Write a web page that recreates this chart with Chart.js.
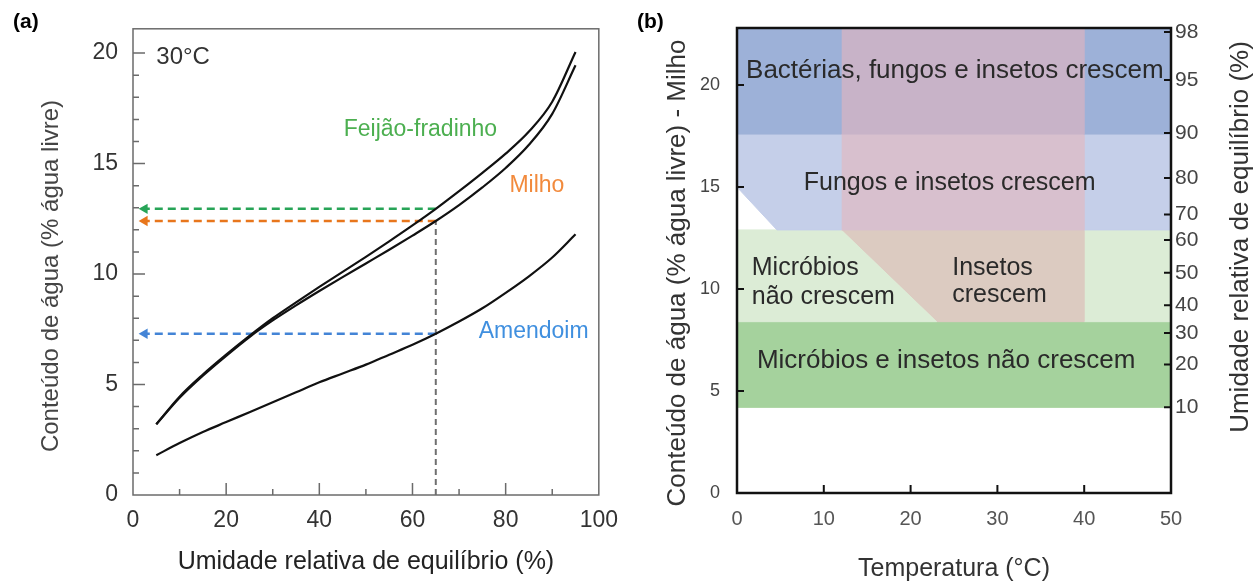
<!DOCTYPE html>
<html lang="pt">
<head>
<meta charset="utf-8">
<title>Conteúdo de água e umidade relativa de equilíbrio</title>
<script src="https://cdn.jsdelivr.net/npm/chart.js@4.4.3/dist/chart.umd.min.js"></script>
<style>
  html, body { margin: 0; padding: 0; background: #fff; }
  #quadro { position: relative; width: 1255px; height: 584px; }
  #graficoA { position: absolute; left: 0; top: 0; }
  #graficoB { position: absolute; left: 630px; top: 0; }
</style>
</head>
<body>
<div id="quadro">
  <canvas id="graficoA" width="630" height="584"></canvas>
  <canvas id="graficoB" width="625" height="584"></canvas>
</div>
<script>
// ---- (a) isotermas a 30 °C ----
const umidade  = [5, 10, 15, 20, 25, 30, 35, 40, 45, 50, 55, 60, 65, 70, 75, 80, 85, 90, 95];
const feijao   = [3.2, 4.45, 5.45, 6.35, 7.2, 8.0, 8.72, 9.42, 10.1, 10.78, 11.48, 12.2, 12.95, 13.75, 14.58, 15.45, 16.45, 17.8, 20.05];
const milho    = [3.2, 4.4, 5.4, 6.3, 7.15, 7.9, 8.58, 9.23, 9.86, 10.48, 11.1, 11.74, 12.4, 13.12, 13.92, 14.8, 15.85, 17.25, 19.45];
const amendoim = [1.8, 2.35, 2.85, 3.3, 3.75, 4.2, 4.65, 5.1, 5.5, 5.9, 6.35, 6.8, 7.3, 7.85, 8.45, 9.15, 9.9, 10.75, 11.8];
const umidadeLeitura = 65;
const ticksUmidade = [0, 20, 40, 60, 80, 100];
const ticksConteudoA = [0, 5, 10, 15, 20];

// ---- (b) faixas de crescimento no milho ----
const ticksTemperatura = [0, 10, 20, 30, 40, 50];
const ticksConteudoB = [0, 5, 10, 15, 20];
const urRotulos  = [98, 95, 90, 80, 70, 60, 50, 40, 30, 20, 10];
const urConteudo = [22.6, 20.25, 17.65, 15.45, 13.65, 12.4, 10.8, 9.2, 7.85, 6.3, 4.2];
const faixasConteudo = [22.8, 17.6, 12.9, 8.4, 4.2];   // topo do eixo e limites entre as faixas
const faixasTemperatura = [0, 12, 40, 50];

Chart.defaults.font.family = 'Arial, "Liberation Sans", Helvetica, sans-serif';

const cores = {
  azul: '#9db1d8', malva: '#c8b3c8', azulClaro: '#c5cfe9', rosa: '#d8c0ce',
  verdeClaro: '#dcecd6', bege: '#dccbc1', verde: '#a5d29d'
};

// moldura da área do gráfico e marcas de escala voltadas para dentro
function fazerMoldura(cfg) {
  return {
    id: 'moldura',
    afterDatasetsDraw(chart) {
      const { ctx, chartArea: a, scales } = chart;
      ctx.save();
      ctx.strokeStyle = cfg.cor;
      ctx.lineWidth = cfg.espessura;
      ctx.strokeRect(a.left, a.top, a.right - a.left, a.bottom - a.top);
      ctx.lineWidth = cfg.espessuraMarca;
      for (const m of cfg.marcas) {
        const s = scales[m.eixo];
        ctx.beginPath();
        for (const v of m.valores) {
          const p = s.getPixelForValue(v);
          if (m.lado === 'baixo') { ctx.moveTo(p, a.bottom); ctx.lineTo(p, a.bottom - m.comp); }
          else if (m.lado === 'esq') { ctx.moveTo(a.left, p); ctx.lineTo(a.left + m.comp, p); }
          else { ctx.moveTo(a.right, p); ctx.lineTo(a.right - m.comp, p); }
        }
        ctx.stroke();
      }
      ctx.restore();
    }
  };
}

// textos: em coordenadas dos eixos (x, y) ou em pixels do canvas (px, py)
function fazerRotulos(itens) {
  return {
    id: 'rotulos',
    afterDraw(chart) {
      const { ctx, scales } = chart;
      for (const r of itens) {
        const px = r.px ?? scales.x.getPixelForValue(r.x);
        const py = r.py ?? scales.y.getPixelForValue(r.y);
        ctx.save();
        ctx.translate(px, py);
        if (r.rot) ctx.rotate(r.rot * Math.PI / 180);
        ctx.font = (r.negrito ? 'bold ' : '') + r.tam + 'px ' + Chart.defaults.font.family;
        ctx.fillStyle = r.cor || '#333';
        ctx.textAlign = r.alinh || 'center';
        ctx.textBaseline = 'middle';
        ctx.fillText(r.texto, 0, 0);
        ctx.restore();
      }
    }
  };
}

const fixarTicks = valores => s => { s.ticks = valores.map(v => ({ value: v })); };
const semGrade = { display: false, drawTicks: false };

// ================= (a) =================
const iLeitura = umidade.indexOf(umidadeLeitura);
const FIM_SETA = 2.5;

const curva = ys => ({
  data: umidade.map((x, i) => ({ x, y: ys[i] })),
  borderColor: '#111', borderWidth: 2.2, pointRadius: 0,
  cubicInterpolationMode: 'monotone'
});
const seta = (valor, cor) => ({
  data: [{ x: umidadeLeitura, y: valor }, { x: FIM_SETA, y: valor }],
  borderColor: cor, borderWidth: 2.5, borderDash: [8, 5],
  pointRadius: [0, 6], pointStyle: 'triangle', pointRotation: 270,
  pointBackgroundColor: cor, pointBorderColor: cor, pointBorderWidth: 0
});

const minX = [10, 30, 50, 70, 90];
const minY = [];
for (let v = 1; v <= 20; v++) if (v % 5) minY.push(v);

new Chart(document.getElementById('graficoA'), {
  type: 'line',
  data: {
    datasets: [
      curva(feijao), curva(milho), curva(amendoim),
      seta(feijao[iLeitura], '#27a457'),
      seta(milho[iLeitura], '#e8761c'),
      seta(amendoim[iLeitura], '#4384d6'),
      {
        data: [{ x: umidadeLeitura, y: 0 }, { x: umidadeLeitura, y: milho[iLeitura] }],
        borderColor: '#6f6f6f', borderWidth: 2, borderDash: [6, 4], pointRadius: 0
      }
    ]
  },
  options: {
    responsive: false, animation: false, events: [],
    layout: { padding: { top: 23, right: 25, left: 0, bottom: 0 } },
    plugins: { legend: { display: false }, tooltip: { enabled: false } },
    scales: {
      x: {
        type: 'linear', min: 0, max: 100,
        afterBuildTicks: fixarTicks(ticksUmidade),
        afterFit: s => { s.height = 89; },
        grid: semGrade, border: { display: false },
        ticks: { font: { size: 23 }, color: '#333', padding: 12, autoSkip: false, maxRotation: 0 },
        title: {
          display: true, text: 'Umidade relativa de equilíbrio (%)',
          font: { size: 25 }, color: '#222', padding: { top: 0, bottom: 7 }
        }
      },
      y: {
        min: 0, max: 21.1,
        afterBuildTicks: fixarTicks(ticksConteudoA),
        afterFit: s => { s.width = 133; },
        grid: semGrade, border: { display: false },
        ticks: { font: { size: 23 }, color: '#333', padding: 15, autoSkip: false }
      }
    }
  },
  plugins: [
    fazerMoldura({
      cor: '#6b6b6b', espessura: 1.5, espessuraMarca: 1.5,
      marcas: [
        { eixo: 'x', lado: 'baixo', valores: [20, 40, 60, 80], comp: 12 },
        { eixo: 'x', lado: 'baixo', valores: minX, comp: 6 },
        { eixo: 'y', lado: 'esq', valores: [5, 10, 15, 20], comp: 12 },
        { eixo: 'y', lado: 'esq', valores: minY, comp: 6 }
      ]
    }),
    fazerRotulos([
      { texto: '(a)', px: 13, py: 22, tam: 21, negrito: true, alinh: 'left', cor: '#000' },
      { texto: 'Conteúdo de água (% água livre)', px: 51, py: 276, rot: -90, tam: 24, cor: '#444' },
      { texto: '30°C', x: 5, y: 19.82, tam: 24, alinh: 'left', cor: '#333' },
      { texto: 'Feijão-fradinho', x: 61.7, y: 16.54, tam: 23, cor: '#4caf50' },
      { texto: 'Milho', x: 86.7, y: 14.0, tam: 23, cor: '#f28a3c' },
      { texto: 'Amendoim', x: 86.0, y: 7.39, tam: 23, cor: '#3f8fdf' }
    ])
  ]
});

// ================= (b) =================
const [cTopo, c1, c2, c3, c4] = faixasConteudo;
const [t0, t1, t2, t3] = faixasTemperatura;
const zonas = [
  // bactérias, fungos e insetos crescem
  { cor: 'azul',  pts: [[t0, c1], [t1, c1], [t1, cTopo], [t0, cTopo]] },
  { cor: 'malva', pts: [[t1, c1], [t2, c1], [t2, cTopo], [t1, cTopo]] },
  { cor: 'azul',  pts: [[t2, c1], [t3, c1], [t3, cTopo], [t2, cTopo]] },
  // fungos e insetos crescem (canto inferior esquerdo sem crescimento)
  { cor: 'azulClaro', pts: [[t0, 15], [4.6, c2], [t1, c2], [t1, c1], [t0, c1]] },
  { cor: 'rosa',      pts: [[t1, c2], [t2, c2], [t2, c1], [t1, c1]] },
  { cor: 'azulClaro', pts: [[t2, c2], [t3, c2], [t3, c1], [t2, c1]] },
  // micróbios não crescem / insetos crescem
  { cor: 'verdeClaro', pts: [[t0, c3], [23, c3], [t1, c2], [t0, c2]] },
  { cor: 'bege',       pts: [[23, c3], [t2, c3], [t2, c2], [t1, c2]] },
  { cor: 'verdeClaro', pts: [[t2, c3], [t3, c3], [t3, c2], [t2, c2]] },
  // micróbios e insetos não crescem
  { cor: 'verde', pts: [[t0, c4], [t3, c4], [t3, c3], [t0, c3]] }
];

const zonaDataset = z => {
  const pts = z.pts.concat([z.pts[0]]).map(([x, y]) => ({ x, y }));
  return {
    data: pts, fill: 'shape', tension: 0,
    backgroundColor: cores[z.cor], borderColor: cores[z.cor], borderWidth: 1,
    pointRadius: 0
  };
};

new Chart(document.getElementById('graficoB'), {
  type: 'line',
  data: { datasets: zonas.map(zonaDataset) },
  options: {
    responsive: false, animation: false, events: [],
    layout: { padding: { top: 28, right: 0, left: 0, bottom: 0 } },
    plugins: { legend: { display: false }, tooltip: { enabled: false } },
    scales: {
      x: {
        type: 'linear', min: 0, max: 50,
        afterBuildTicks: fixarTicks(ticksTemperatura),
        afterFit: s => { s.height = 91; },
        grid: semGrade, border: { display: false },
        ticks: { font: { size: 20 }, color: '#555', padding: 14, autoSkip: false, maxRotation: 0 },
        title: {
          display: true, text: 'Temperatura (°C)',
          font: { size: 25 }, color: '#333', padding: { top: 0, bottom: 0 }
        }
      },
      y: {
        position: 'left', min: 0, max: cTopo,
        afterBuildTicks: fixarTicks(ticksConteudoB),
        afterFit: s => { s.width = 107; },
        grid: semGrade, border: { display: false },
        ticks: { font: { size: 18 }, color: '#444', padding: 17, autoSkip: false }
      },
      ur: {
        position: 'right', min: 0, max: cTopo,
        afterBuildTicks: fixarTicks(urConteudo),
        afterFit: s => { s.width = 84; },
        grid: semGrade, border: { display: false },
        ticks: {
          font: { size: 21 }, color: '#444', padding: 4, autoSkip: false,
          callback: v => urRotulos[urConteudo.indexOf(v)]
        }
      }
    }
  },
  plugins: [
    fazerMoldura({
      cor: '#111', espessura: 2.5, espessuraMarca: 2,
      marcas: [
        { eixo: 'x', lado: 'baixo', valores: [10, 20, 30, 40], comp: 8 },
        { eixo: 'y', lado: 'esq', valores: [5, 10, 15, 20], comp: 7 },
        { eixo: 'ur', lado: 'dir', valores: urConteudo, comp: 7 }
      ]
    }),
    fazerRotulos([
      { texto: '(b)', px: 7, py: 22, tam: 21, negrito: true, alinh: 'left', cor: '#000' },
      { texto: 'Conteúdo de água (% água livre) - Milho', px: 48, py: 273, rot: -90, tam: 26, cor: '#333' },
      { texto: 'Umidade relativa de equilíbrio (%)', px: 611, py: 237, rot: -90, tam: 26, cor: '#333' },
      { texto: 'Bactérias, fungos e insetos crescem', x: 25.1, y: 20.7, tam: 26, cor: '#2a2a2a' },
      { texto: 'Fungos e insetos crescem', x: 24.5, y: 15.2, tam: 25, cor: '#2a2a2a' },
      { texto: 'Micróbios', x: 1.7, y: 11.03, tam: 25, alinh: 'left', cor: '#2a2a2a' },
      { texto: 'não crescem', x: 1.7, y: 9.6, tam: 25, alinh: 'left', cor: '#2a2a2a' },
      { texto: 'Insetos', x: 24.8, y: 11.03, tam: 25, alinh: 'left', cor: '#2a2a2a' },
      { texto: 'crescem', x: 24.8, y: 9.7, tam: 25, alinh: 'left', cor: '#2a2a2a' },
      { texto: 'Micróbios e insetos não crescem', x: 24.1, y: 6.5, tam: 26, cor: '#2a2a2a' }
    ])
  ]
});
</script>
</body>
</html>
